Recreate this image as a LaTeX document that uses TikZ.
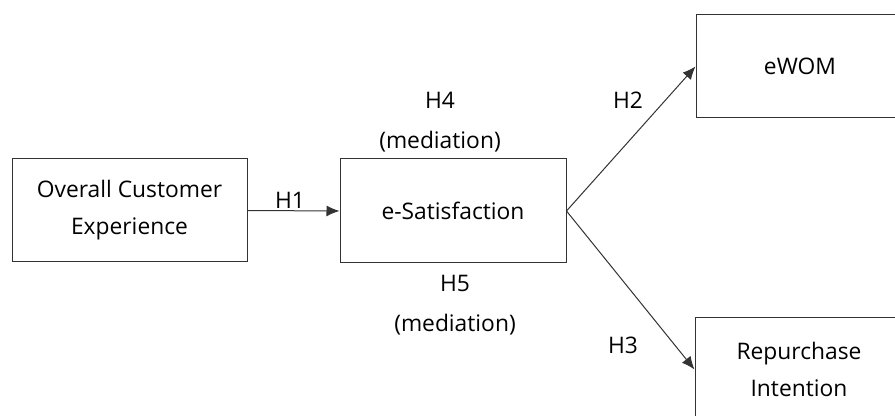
\documentclass[tikz,border=0pt]{standalone}
\usepackage{fontspec}
\setmainfont{Open Sans}
\usetikzlibrary{arrows.meta}

\tikzset{
	varbox/.style={draw=black!80, line width=0.5pt, fill=white, align=center,
		font=\fontsize{11.4}{18.5}\selectfont, inner sep=0pt},
	hyplabel/.style={align=center, font=\fontsize{11.4}{20}\selectfont, inner sep=1pt},
	hyparrow/.style={draw=black!80, line width=0.5pt, -{Latex[length=6.5pt,width=5.5pt]}}
}

\begin{document}
\begin{tikzpicture}[x=0.5pt, y=-0.5pt]
			\def\W{895};
			\def\H{416};

			\useasboundingbox (0,0) rectangle (\W,\H);

			% constructs
			\begin{scope}
				\node[varbox, minimum width=117.5pt, minimum height=51.5pt] (experience) at (129.5,210.5) {Overall Customer\\Experience};
				\node[varbox, minimum width=113pt, minimum height=52pt] (satisfaction) at (453,211) {e-Satisfaction};
				\node[varbox, minimum width=104pt, minimum height=51.5pt] (ewom) at (800,66.5) {eWOM};
				\node[varbox, minimum width=104pt, minimum height=51.5pt] (repurchase) at (799,369.5) {Repurchase\\Intention};
			\end{scope}

			% hypotheses
			\begin{scope}
				\draw[hyparrow] (experience.east) -- (satisfaction.west);
				\draw[hyparrow] (satisfaction.east) -- (ewom.west);
				\draw[hyparrow] (satisfaction.east) -- (repurchase.west);
			\end{scope}

			\begin{scope}
				\node[hyplabel] (hone) at (290,200) {H1};
				\node[hyplabel] (htwo) at (628,100) {H2};
				\node[hyplabel] (hthree) at (623,345) {H3};
				\node[hyplabel] (hfour) at (440,122) {H4\\(mediation)};
				\node[hyplabel] (hfive) at (455,305) {H5\\(mediation)};
			\end{scope}
		\end{tikzpicture}
\end{document}
